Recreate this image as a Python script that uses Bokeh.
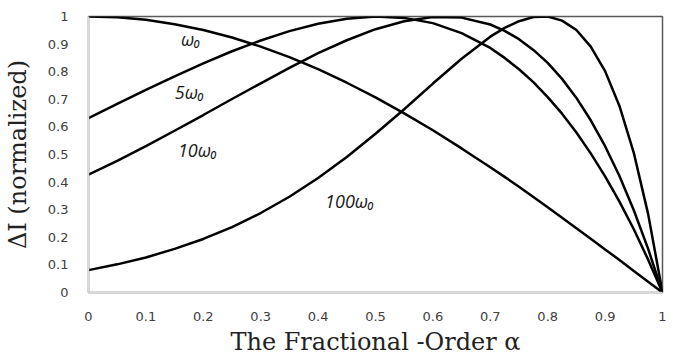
from bokeh.plotting import figure
from bokeh.models import Range1d, FixedTicker, Label
from bokeh.embed import file_html
from bokeh.resources import INLINE

# Fractional order alpha
alpha = [0.0, 0.05, 0.1, 0.15, 0.2, 0.25, 0.3, 0.35, 0.4, 0.45, 0.5, 0.55, 0.6, 0.65, 0.7,
         0.725, 0.75, 0.775, 0.8, 0.825, 0.85, 0.875, 0.9, 0.925, 0.95, 0.975, 1.0]

# Normalized Delta I for each frequency
di_w0 = [1.0, 0.997, 0.988, 0.972, 0.951, 0.924, 0.891, 0.853, 0.809, 0.760, 0.707, 0.649, 0.588, 0.522, 0.454,
         0.419, 0.383, 0.346, 0.309, 0.271, 0.233, 0.195, 0.156, 0.118, 0.078, 0.039, 0.0]
di_5w0 = [0.632, 0.683, 0.734, 0.783, 0.830, 0.874, 0.913, 0.947, 0.974, 0.992, 1.000, 0.995, 0.976, 0.940, 0.886,
          0.850, 0.809, 0.762, 0.708, 0.648, 0.580, 0.504, 0.421, 0.329, 0.229, 0.119, 0.0]
di_10w0 = [0.427, 0.477, 0.530, 0.586, 0.643, 0.701, 0.758, 0.814, 0.867, 0.914, 0.954, 0.983, 0.998, 0.996, 0.971,
           0.948, 0.918, 0.879, 0.832, 0.774, 0.705, 0.624, 0.530, 0.422, 0.298, 0.158, 0.0]
di_100w0 = [0.081, 0.102, 0.127, 0.158, 0.194, 0.237, 0.288, 0.347, 0.415, 0.491, 0.575, 0.664, 0.757, 0.847, 0.927,
            0.959, 0.983, 0.998, 1.000, 0.985, 0.951, 0.891, 0.802, 0.676, 0.506, 0.284, 0.0]

series = [di_w0, di_5w0, di_10w0, di_100w0]
curve_labels = ["ω₀", "5ω₀", "10ω₀", "100ω₀"]
label_pos = [(0.178, 0.917), (0.176, 0.728), (0.190, 0.518), (0.455, 0.333)]

tick_vals = [0.0, 0.1, 0.2, 0.3, 0.4, 0.5, 0.6, 0.7, 0.8, 0.9, 1.0]
tick_text = ["0", "0.1", "0.2", "0.3", "0.4", "0.5", "0.6", "0.7", "0.8", "0.9", "1"]

p = figure(width=667, height=358, output_backend="svg", toolbar_location=None,
           x_range=Range1d(0, 1), y_range=Range1d(0, 1),
           min_border_left=86, min_border_right=5, min_border_top=16, min_border_bottom=58)

p.outline_line_color = "#595959"
p.outline_line_width = 1.5
p.xgrid.visible = False
p.ygrid.visible = False
p.background_fill_color = "white"
p.border_fill_color = "white"

for ys in series:
    p.line(alpha, ys, line_color="black", line_width=2.5)

for txt, (lx, ly) in zip(curve_labels, label_pos):
    p.add_layout(Label(x=lx, y=ly, text=txt, text_font="Open Sans", text_font_style="italic",
                       text_font_size="18px", text_align="center", text_baseline="middle",
                       text_color="#1a1a1a"))

for ax in (p.xaxis[0], p.yaxis[0]):
    ax.ticker = FixedTicker(ticks=tick_vals)
    ax.major_label_overrides = {v: t for v, t in zip(tick_vals, tick_text)}
    ax.major_tick_line_color = None
    ax.minor_tick_line_color = None
    ax.axis_line_color = "#d9d9d9"
    ax.axis_line_width = 1.5
    ax.major_label_text_font = "DejaVu Sans"
    ax.major_label_text_font_size = "13px"
    ax.major_label_text_color = "#404040"
    ax.axis_label_text_font = "DejaVu Serif"
    ax.axis_label_text_font_style = "normal"
    ax.axis_label_text_color = "#222222"

p.xaxis.major_label_standoff = 13
p.yaxis.major_label_standoff = 14
p.xaxis.axis_label = "The Fractional -Order α"
p.xaxis.axis_label_text_font_size = "24px"
p.xaxis.axis_label_standoff = 4
p.yaxis.axis_label = "ΔI (normalized)"
p.yaxis.axis_label_text_font_size = "24px"
p.yaxis.axis_label_standoff = 13

open("out.html", "w").write(file_html(p, INLINE))
